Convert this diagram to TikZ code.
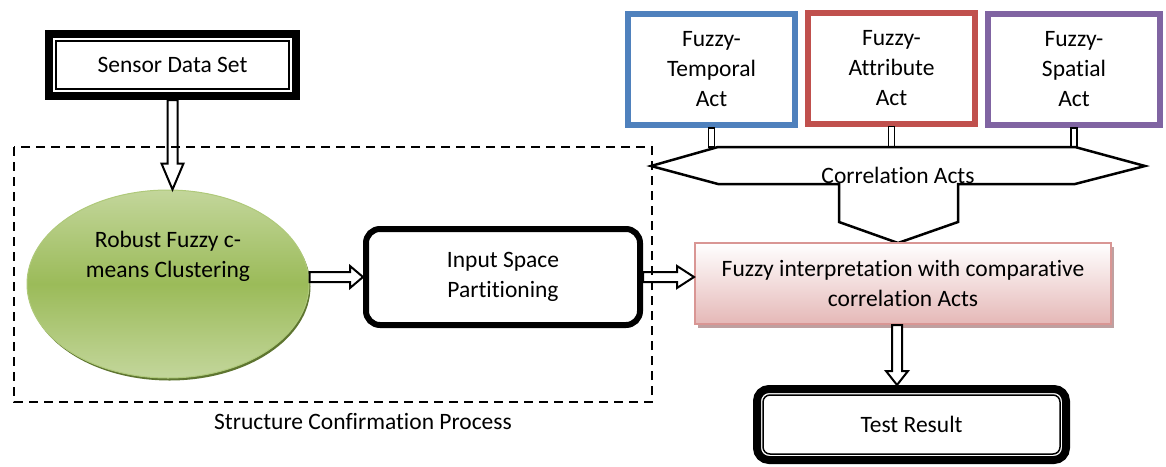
\documentclass[tikz,border=0pt]{standalone}
\usepackage{fontspec}
\setmainfont{Carlito}[Ligatures=NoCommon]
\usetikzlibrary{calc,shadows,shapes.geometric}

\definecolor{tblue}{HTML}{4F81BD}
\definecolor{tred}{HTML}{C0504D}
\definecolor{tpurple}{HTML}{8064A2}
\definecolor{pinkedge}{HTML}{D99694}
\definecolor{pinkbot}{HTML}{E5B8B7}
\definecolor{pinkshadow}{HTML}{BFA0A0}
\definecolor{greenlight}{HTML}{C3D69B}
\definecolor{greenmid}{HTML}{9BBB59}
\definecolor{greenrim}{HTML}{AFC97A}
\definecolor{greenshadow}{HTML}{5E7530}

% block arrow: [head length]{from}{to}
\newcommand{\blockarrow}[3][14pt]{%
  \path (#2) coordinate (ba-a) (#3) coordinate (ba-b);
  \path ($(ba-b)!#1!(ba-a)$) coordinate (ba-h);
  \draw[barrow] ($(ba-a)!5pt!90:(ba-b)$) -- ($(ba-h)!5pt!90:(ba-b)$)
    -- ($(ba-h)!11pt!90:(ba-b)$) -- (ba-b) -- ($(ba-h)!11pt!-90:(ba-b)$)
    -- ($(ba-h)!5pt!-90:(ba-b)$) -- ($(ba-a)!5pt!-90:(ba-b)$) -- cycle;
}

\begin{document}
\begin{tikzpicture}[x=1pt,y=-1pt,
  every node/.style={font=\fontsize{23.5pt}{30pt}\selectfont, align=center, inner sep=0pt},
  framebox/.style={draw, line width=8pt, fill=white},
  innerline/.style={line width=1.5pt},
  topbox/.style={draw, line width=6pt, fill=white, minimum height=111pt},
  stem/.style={draw=black, fill=white, line width=1.5pt},
  hexline/.style={draw=black, fill=white, line width=2.5pt, line join=miter},
  barrow/.style={draw=black, fill=white, line width=2pt, line join=miter},
  dashedframe/.style={draw=black, line width=2.5pt, dash pattern=on 9pt off 6pt},
  pinkbox/.style={draw=pinkedge, line width=2pt, top color=white, bottom color=pinkbot,
    drop shadow={shadow xshift=3pt, shadow yshift=-4pt, fill=pinkshadow, opacity=1}},
  ellbox/.style={ellipse, draw=greenrim, line width=1pt,
    top color=greenlight, bottom color=greenlight, middle color=greenmid,
    drop shadow={shadow xshift=1.5pt, shadow yshift=-2.5pt, fill=greenshadow, opacity=1}},
]
\useasboundingbox (0,0) rectangle (1166,466);

% input data
\node[framebox, minimum width=247pt, minimum height=62pt] (sensor) at (172.5,65) {Sensor Data Set};
\draw[innerline] ([shift={(11pt,-11pt)}]sensor.north west) rectangle ([shift={(-11pt,11pt)}]sensor.south east);

% clustering stage
\node[ellbox, minimum width=282pt, minimum height=188pt] (rfcm) at (168,284) {};
\node (rfcmtxt) at ([yshift=28pt]rfcm.center) {Robust Fuzzy c-\\means Clustering};

\node[draw, line width=6pt, rounded corners=14pt, fill=white,
  minimum width=274pt, minimum height=96pt] (input) at (503,277) {Input Space\\Partitioning};

% fuzzy acts
\node[topbox, draw=tblue, minimum width=167pt] (temporal) at (711.5,69.5) {Fuzzy-\\Temporal\\Act};
\node[topbox, draw=tred, minimum width=167pt] (attribute) at (891.5,68) {Fuzzy-\\Attribute\\Act};
\node[topbox, draw=tpurple, minimum width=172pt] (spatial) at (1074,69.5) {Fuzzy-\\Spatial\\Act};

% correlation acts collector
\coordinate (hextop) at (898,147);
\draw[stem] ($(temporal.south)+(-3pt,0)$) rectangle ($(temporal.south |- hextop)+(3pt,0)$);
\draw[stem] ($(attribute.south)+(-3pt,0)$) rectangle ($(attribute.south |- hextop)+(3pt,0)$);
\draw[stem] ($(spatial.south)+(-3pt,0)$) rectangle ($(spatial.south |- hextop)+(3pt,0)$);
\draw[hexline] (651,166) -- (718,147) -- (1075,147) -- (1145,166) -- (1075,184)
  -- (958,184) -- (958,222) -- (898,243) coordinate (hextip) -- (839,222) -- (839,184)
  -- (718,184) -- cycle;
\node (corr) at (898,175) {Correlation Acts};

% interpretation and result
\node[pinkbox, minimum width=416pt, minimum height=81pt] (interp) at (903,283.5)
  {Fuzzy interpretation with comparative\\correlation Acts};

\node[framebox, rounded corners=12pt, minimum width=309pt, minimum height=71pt] (test) at (911.5,424.5) {Test Result};
\draw[innerline, rounded corners=7pt] ([shift={(10pt,-10pt)}]test.north west) rectangle ([shift={(-10pt,10pt)}]test.south east);

% flow arrows
\blockarrow[26pt]{sensor.south}{sensor.south |- rfcm.north}
\blockarrow[13pt]{rfcm.east |- input.west}{input.west}
\blockarrow[17pt]{input.east}{input.east -| interp.west}
\blockarrow[14pt]{$(interp.south)+(-6pt,0)$}{$(interp.south |- test.north)+(-6pt,0)$}

% process frame
\draw[dashedframe] (14,147) rectangle (652,402);
\node (scp) at (363,421) {Structure Confirmation Process};
\end{tikzpicture}
\end{document}
